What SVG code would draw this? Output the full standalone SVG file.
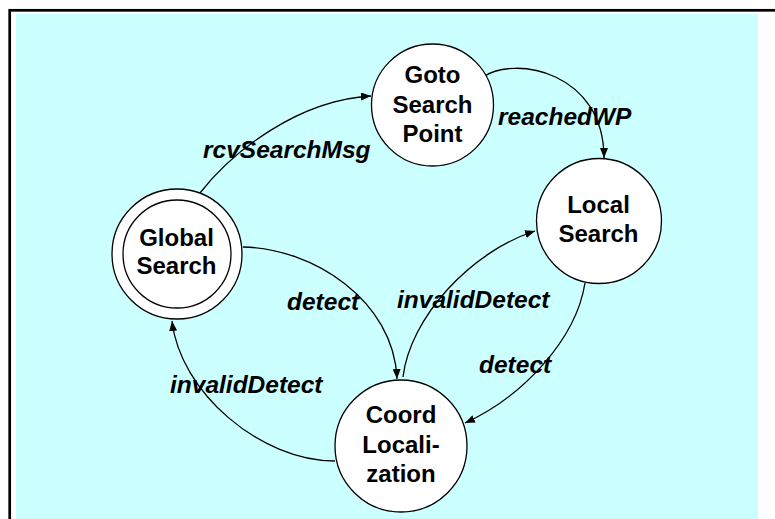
<svg xmlns="http://www.w3.org/2000/svg" width="775" height="519" viewBox="0 0 775 519">
  <style>
    .state { fill: #ffffff; stroke: #000000; stroke-width: 1.3; }
    .name { font-family: "Liberation Sans", Arial, sans-serif; font-weight: bold; font-size: 24px; fill: #000000; text-anchor: middle; }
    .edge { fill: none; stroke: #000000; stroke-width: 1.3; marker-end: url(#arrow); }
    .label { font-family: "Liberation Sans", Arial, sans-serif; font-weight: bold; font-style: italic; font-size: 24.5px; fill: #000000; }
  </style>
  <defs>
    <marker id="arrow" markerWidth="11" markerHeight="8" refX="10" refY="4" orient="auto" markerUnits="userSpaceOnUse">
      <path d="M0,0 L10,4 L0,8 Z" fill="#000000"/>
    </marker>
  </defs>

  <!-- frame and background -->
  <rect x="9.7" y="10.3" width="800" height="600" fill="none" stroke="#000000" stroke-width="2.7"/>
  <rect x="16" y="14" width="742" height="510" fill="#CCFFFF"/>

  <!-- transitions -->
  <g id="connectors">
    <path class="edge" d="M200,193 C232,152 298,100 371,96"/>
    <path class="edge" d="M483,77 C515,55 604,72 604,158"/>
    <path class="edge" d="M243,247 C312,248 394,300 397,379"/>
    <path class="edge" d="M403,377 C410,318 470,252 535,231"/>
    <path class="edge" d="M585,283 C576,340 522,397 465,423"/>
    <path class="edge" d="M335,461 C260,461 180,392 172,321"/>
    <text class="label" x="203" y="158">rcvSearchMsg</text>
    <text class="label" x="498" y="125">reachedWP</text>
    <text class="label" x="287" y="310">detect</text>
    <text class="label" x="397" y="308">invalidDetect</text>
    <text class="label" x="479" y="373">detect</text>
    <text class="label" x="170" y="393">invalidDetect</text>
  </g>

  <!-- states -->
  <g id="global-search">
    <circle class="state" cx="177" cy="254" r="65"/>
    <circle class="state" cx="177" cy="254" r="54"/>
    <text class="name" x="176.5" y="246">Global</text>
    <text class="name" x="176.5" y="274">Search</text>
  </g>
  <g id="goto-search-point">
    <circle class="state" cx="432.5" cy="105" r="61"/>
    <text class="name" x="432.5" y="83">Goto</text>
    <text class="name" x="432.5" y="113">Search</text>
    <text class="name" x="432.5" y="141.5">Point</text>
  </g>
  <g id="local-search">
    <circle class="state" cx="599" cy="221" r="62.5"/>
    <text class="name" x="598.5" y="213">Local</text>
    <text class="name" x="598.5" y="241.5">Search</text>
  </g>
  <g id="coord-localization">
    <circle class="state" cx="401" cy="446" r="66"/>
    <text class="name" x="401" y="423">Coord</text>
    <text class="name" x="401" y="453">Locali-</text>
    <text class="name" x="401" y="481.5">zation</text>
  </g>
</svg>
